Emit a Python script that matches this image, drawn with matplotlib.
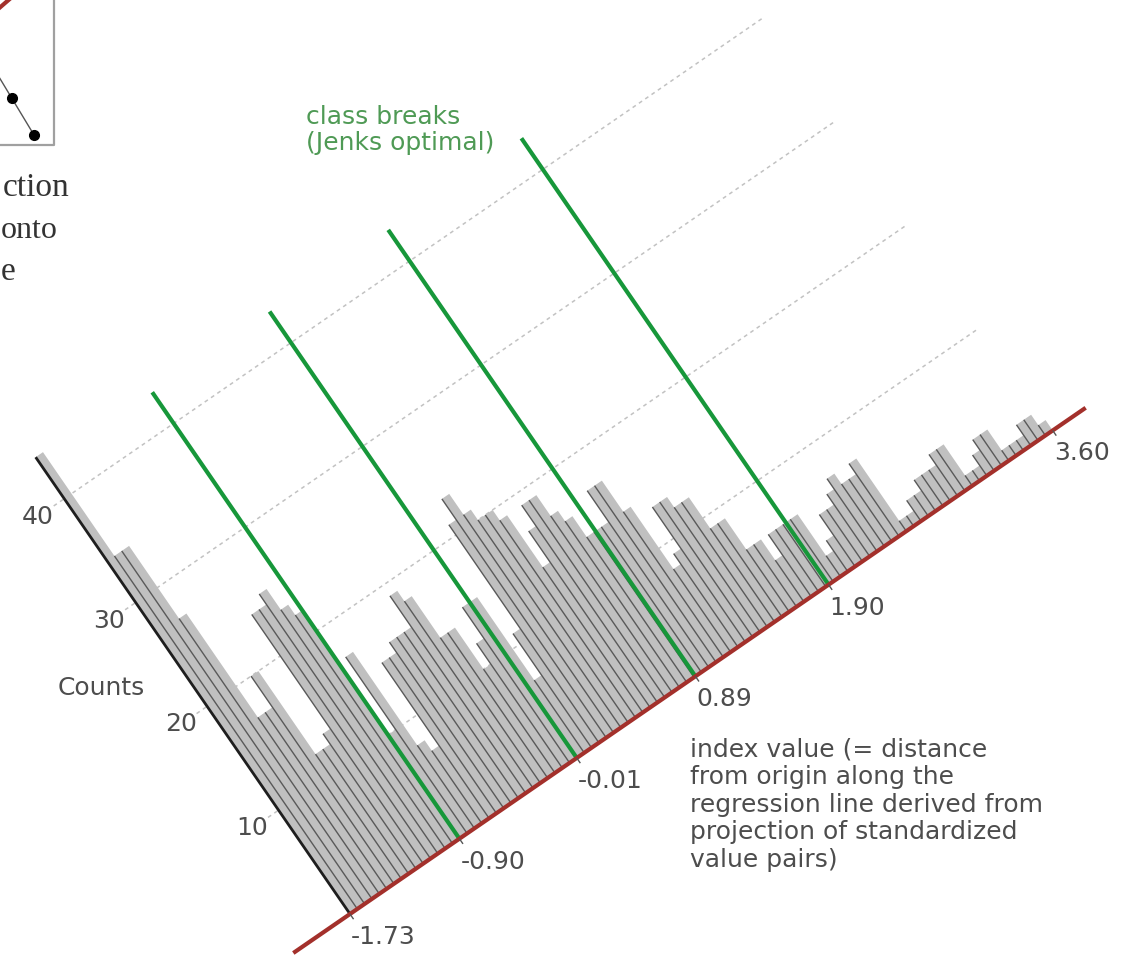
import numpy as np
import matplotlib
matplotlib.use("Agg")
import matplotlib.pyplot as plt
from matplotlib.transforms import Affine2D

# Histogram of the index value (projection onto the regression line)
index_min, index_max = -1.73, 3.60
counts = [44, 34, 34, 27, 17, 17, 20, 12, 12, 13,
          24, 24, 25, 23, 22, 10, 17, 8, 7, 15,
          15, 16, 16, 16, 19, 18, 14, 14, 10, 12,
          15, 15, 7, 11, 21, 23, 21, 20, 20, 19,
          14, 17, 19, 19, 17, 16, 14, 14, 14, 17,
          17, 14, 8, 9, 13, 13, 12, 12, 9, 9,
          6, 6, 4, 6, 6, 6, 6, 2, 3, 5,
          5, 6, 7, 6, 6, 7, 1, 1, 2, 2,
          3, 3, 3, 4, 4, 1, 1, 2, 3, 3,
          1, 1, 1, 2, 2, 1]
class_breaks = [-0.90, -0.01, 0.89, 1.90]
count_ticks = [10, 20, 30, 40]
break_height = 43

# fragment of the scatter inset at the upper left
inset_x = [12, 34]
inset_y = [98, 135]

TEXT = '#4d4d4d'
GREEN = '#17973a'
RED = '#a3302b'
FS = 18

fig = plt.figure(figsize=(11.23, 9.56), dpi=100)
ax = fig.add_axes([0, 0, 1, 1])
ax.set_axis_off()

# rotated frame: index value runs along the regression line, counts at right angles to it
ox, oy = 350.0, 914.0
ux, uy = 0.824, -0.567
nx, ny = -0.567, -0.824
px_unit, px_count = 160.0, 12.6
mat = np.array([[ux * px_unit, nx * px_count, ox - ux * px_unit * index_min],
                [uy * px_unit, ny * px_count, oy - uy * px_unit * index_min],
                [0, 0, 1]])
hist_tr = Affine2D(mat) + ax.transData

edges = np.linspace(index_min, index_max, len(counts) + 1)

# dotted count gridlines
for c in count_ticks:
    ax.plot([index_min - 0.08, index_max - 0.02], [c, c], transform=hist_tr,
            color='#c2c2c2', lw=1.1, ls=(0, (2.5, 2.5)), zorder=1)

ax.bar(edges[:-1], counts, width=np.diff(edges), align='edge', color='#c0c0c0',
       linewidth=0, transform=hist_tr, zorder=2)
ax.vlines(edges[1:-1], 0, counts[1:], colors='#595959', lw=1.0,
          transform=hist_tr, zorder=3)
ax.plot([index_min, index_min], [0, counts[0]], color='#1e1e1e', lw=2.0,
        transform=hist_tr, zorder=3, solid_capstyle='butt')

# Jenks class breaks
ax.vlines(class_breaks, 0, break_height, colors=GREEN, lw=3.0,
          transform=hist_tr, zorder=4)

# regression line used as the index axis
ax.plot([-2.16, 3.85], [0, 0], color=RED, lw=3.0, transform=hist_tr,
        zorder=5, solid_capstyle='butt')

axis_marks = [index_min] + class_breaks + [index_max]
ax.vlines(axis_marks, -0.5, 0, colors='#555555', lw=1.0, transform=hist_tr, zorder=5)
for v in axis_marks:
    ax.annotate(f'{v:.2f}', xy=(v, 0), xycoords=hist_tr, xytext=(1, -11),
                textcoords='offset pixels', ha='left', va='top',
                fontsize=FS, color=TEXT)

for c in count_ticks:
    ax.text(index_min - 0.2, c, str(c), transform=hist_tr, ha='center',
            va='center', fontsize=FS, color=TEXT)
ax.text(index_min - 0.48, 26, 'Counts', transform=hist_tr, ha='center',
        va='center', fontsize=FS, color=TEXT)

ax.text(690, 737, 'index value (= distance\nfrom origin along the\n'
        'regression line derived from\nprojection of standardized\nvalue pairs)',
        ha='left', va='top', fontsize=FS, color=TEXT, linespacing=1.2)
ax.text(306, 105, 'class breaks\n(Jenks optimal)', ha='left', va='top',
        fontsize=FS, color='#4f9a55', linespacing=1.12)

# cropped inset: projection of the value pairs onto the line
ax.plot([-10, 54, 54], [145, 145, -10], color='#a0a0a0', lw=1.6)
ax.plot([-4, inset_x[1]], [72, inset_y[1]], color='#555555', lw=1.0)
ax.plot(inset_x, inset_y, 'o', color='black', ms=7)
ax.plot([-3, 12], [10, -3], color=RED, lw=3)
ax.text(69, 196, 'ction', ha='right', va='baseline', family='Liberation Serif',
        fontsize=24, color='#333333')
ax.text(1, 238, 'onto', ha='left', va='baseline', family='Liberation Serif',
        fontsize=23, color='#333333')
ax.text(16, 280, 'e', ha='right', va='baseline', family='Liberation Serif',
        fontsize=24, color='#333333')

ax.set_xlim(0, 1123)
ax.set_ylim(956, 0)
fig.savefig('out.png', dpi=100, facecolor='white')
